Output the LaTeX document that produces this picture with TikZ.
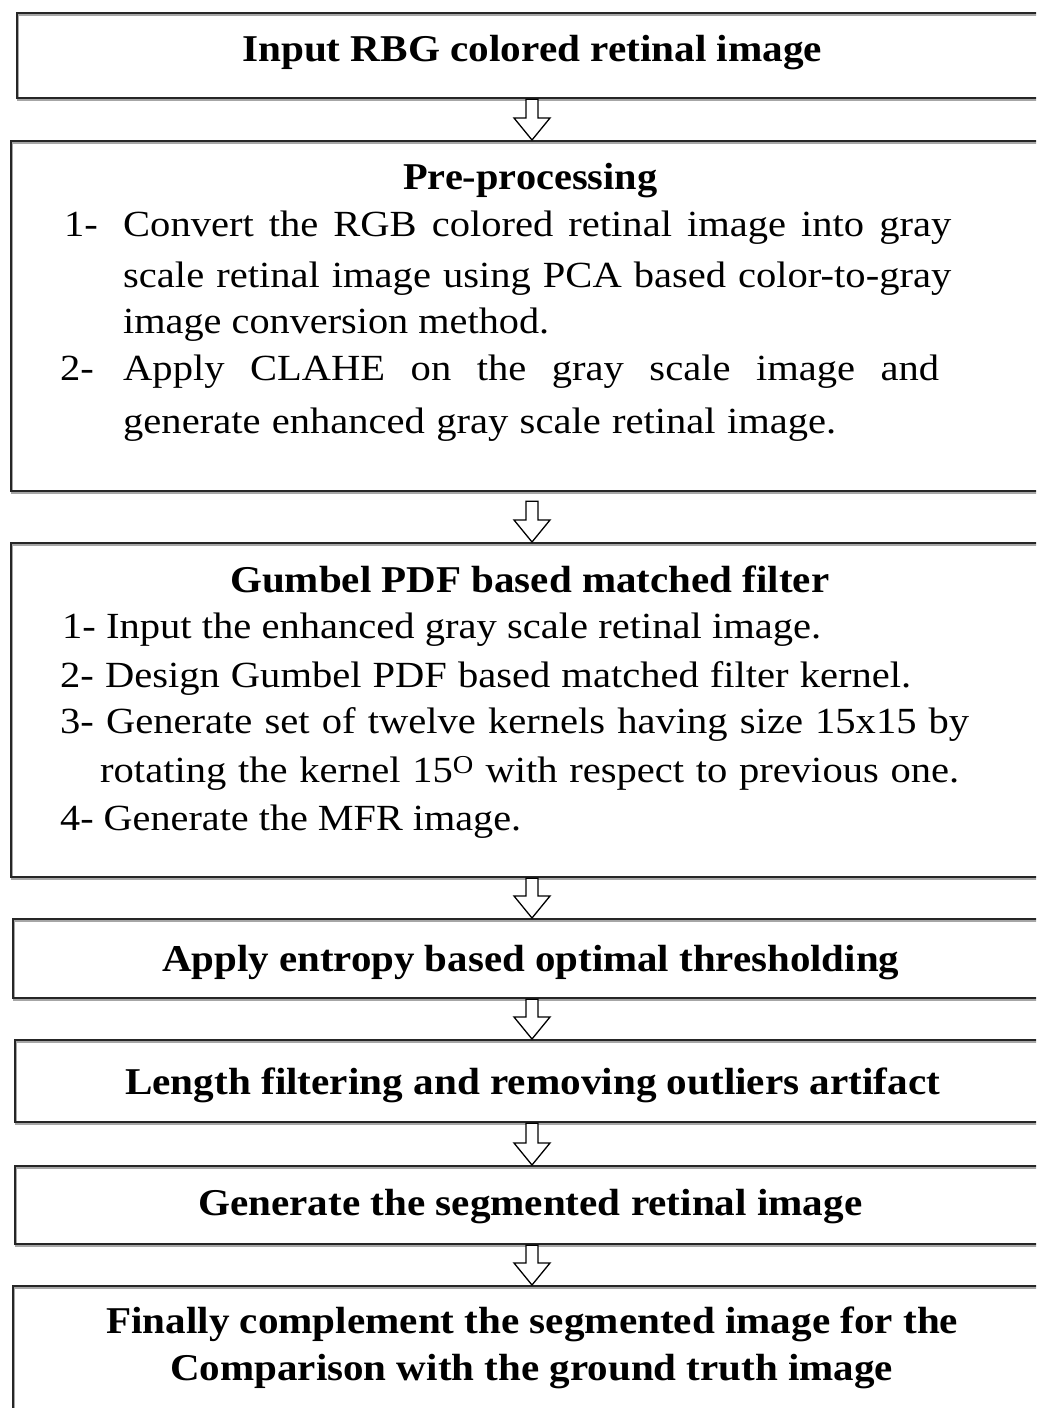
\documentclass[tikz,border=0pt]{standalone}
\usepackage{fontspec}
\setmainfont{Liberation Serif}[FakeStretch=1.1]
\usetikzlibrary{calc}
\newsavebox\fitbox
\newlength\fitw
\newcommand\fitline[2]{\setlength\fitw{#1bp}\sbox\fitbox{#2}%
  \ifdim\wd\fitbox>\fitw\relax\resizebox{\fitw}{\height}{#2}\else\makebox[\fitw][s]{#2}\fi}
\newcommand\blockarrow[3]{%
  \draw[blockarr] ($(#1.south -| axis)+(-6,#3)$) -- ($(#2.north -| axis)+(-6,-22)$)
    -- ($(#2.north -| axis)+(-18,-22)$) -- (#2.north -| axis)
    -- ($(#2.north -| axis)+(18,-22)$) -- ($(#2.north -| axis)+(6,-22)$)
    -- ($(#1.south -| axis)+(6,#3)$) -- cycle;}
\begin{document}
\begin{tikzpicture}[x=1bp,y=-1bp,
  box/.style={draw=black!85, line width=2.2bp, anchor=north west, inner sep=0pt,
    preaction={draw=black!35, line width=2bp, transform canvas={shift={(0.8bp,-2.2bp)}}}},
  blockarr/.style={draw=black, line width=1.3bp, fill=white, line join=miter},
  tb/.style={anchor=base west, inner sep=0pt, font=\fontsize{38}{42}\selectfont\bfseries},
  tr/.style={anchor=base west, inner sep=0pt, font=\fontsize{37}{42}\selectfont}]
\fill[white] (0,0) rectangle (1036,1408);
\useasboundingbox (0,0) rectangle (1036,1408);
\clip (0,0) rectangle (1036,1408);
\coordinate (axis) at (532,0);
% boxes
\node[box, minimum width=1034bp, minimum height=85bp] (b1) at (16,12) {};
\node[box, minimum width=1040bp, minimum height=350bp] (b2) at (10,140) {};
\node[box, minimum width=1040bp, minimum height=334bp] (b3) at (10,542) {};
\node[box, minimum width=1038bp, minimum height=79bp] (b4) at (12,918) {};
\node[box, minimum width=1036bp, minimum height=82bp] (b5) at (14,1039) {};
\node[box, minimum width=1036bp, minimum height=78bp] (b6) at (14,1165) {};
\node[box, minimum width=1038bp, minimum height=150bp] (b7) at (12,1285) {};
% arrows
\blockarrow{b1}{b2}{0}
\blockarrow{b2}{b3}{9}
\blockarrow{b3}{b4}{0}
\blockarrow{b4}{b5}{0}
\blockarrow{b5}{b6}{0}
\blockarrow{b6}{b7}{0}
% box 1
\node[tb] (t1) at (242,62) {\fitline{580}{Input RBG colored retinal image}};
% box 2
\node[tb] (t2) at (403,190) {\fitline{254}{Pre-processing}};
\node[tr] (t2n1) at (64,237) {1-};
\node[tr] (t2a) at (123,237) {\fitline{828}{Convert the RGB colored retinal image into gray}};
\node[tr] (t2b) at (123,287) {\fitline{828}{scale retinal image using PCA based color-to-gray}};
\node[tr] (t2c) at (123,333) {\fitline{426}{image conversion method.}};
\node[tr] (t2n2) at (60,380) {2-};
\node[tr] (t2d) at (123,380) {\fitline{816}{Apply CLAHE on the gray scale image and}};
\node[tr] (t2e) at (123,433) {\fitline{713}{generate enhanced gray scale retinal image.}};
% box 3
\node[tb] (t3) at (230,592) {\fitline{599}{Gumbel PDF based matched filter}};
\node[tr] (t3a) at (62,638) {\fitline{759}{1- Input the enhanced gray scale retinal image.}};
\node[tr] (t3b) at (60,687) {\fitline{851}{2- Design Gumbel PDF based matched filter kernel.}};
\node[tr] (t3c) at (60,733) {\fitline{909}{3- Generate set of twelve kernels having size 15x15 by}};
\node[tr] (t3d) at (100,782) {\fitline{859}{rotating the kernel 15\textsuperscript{O} with respect to previous one.}};
\node[tr] (t3e) at (60,830) {\fitline{461}{4- Generate the MFR image.}};
% box 4-6
\node[tb] (t4) at (162,971) {\fitline{737}{Apply entropy based optimal thresholding}};
\node[tb] (t5) at (125,1094) {\fitline{815}{Length filtering and removing outliers artifact}};
\node[tb] (t6) at (198,1215) {\fitline{664}{Generate the segmented retinal image}};
% box 7
\node[tb] (t7a) at (106,1333) {\fitline{852}{Finally complement the segmented image for the}};
\node[tb] (t7b) at (170,1380) {\fitline{723}{Comparison with the ground truth image}};
\end{tikzpicture}
\end{document}
